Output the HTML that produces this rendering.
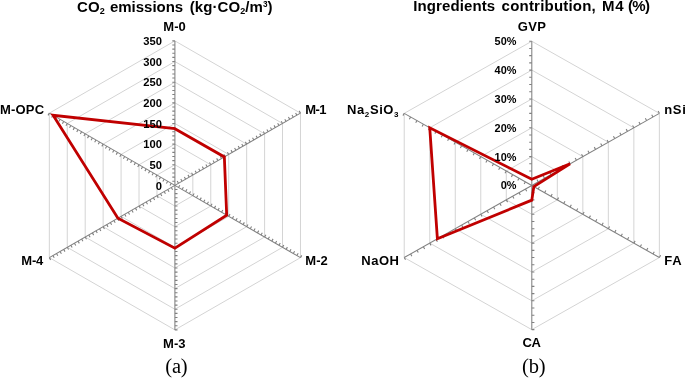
<!DOCTYPE html>
<html><head><meta charset="utf-8"><style>
html,body{margin:0;padding:0;background:#fff;overflow:hidden;}
svg{display:block;}
.b{font-family:"Liberation Sans",sans-serif;font-weight:bold;fill:#000;}
.s{font-family:"Liberation Serif",serif;fill:#000;}
</style></head><body>
<svg width="685" height="378" viewBox="0 0 685 378">
<defs><filter id="bl" filterUnits="userSpaceOnUse" x="0" y="0" width="685" height="378"><feGaussianBlur stdDeviation="0.3"/></filter></defs>
<rect width="685" height="378" fill="#fff"/>
<g filter="url(#bl)">
<polygon points="174.90,164.76 192.84,175.08 192.84,195.72 174.90,206.04 156.96,195.72 156.96,175.08" fill="none" stroke="#d4d4d4" stroke-width="1"/>
<polygon points="174.90,144.11 210.78,164.76 210.78,206.04 174.90,226.69 139.02,206.04 139.02,164.76" fill="none" stroke="#d4d4d4" stroke-width="1"/>
<polygon points="174.90,123.47 228.72,154.44 228.72,216.36 174.90,247.33 121.08,216.36 121.08,154.44" fill="none" stroke="#d4d4d4" stroke-width="1"/>
<polygon points="174.90,102.83 246.66,144.11 246.66,226.69 174.90,267.97 103.14,226.69 103.14,144.11" fill="none" stroke="#d4d4d4" stroke-width="1"/>
<polygon points="174.90,82.19 264.60,133.79 264.60,237.01 174.90,288.61 85.20,237.01 85.20,133.79" fill="none" stroke="#d4d4d4" stroke-width="1"/>
<polygon points="174.90,61.54 282.53,123.47 282.53,247.33 174.90,309.26 67.27,247.33 67.27,123.47" fill="none" stroke="#d4d4d4" stroke-width="1"/>
<polygon points="174.90,40.90 300.47,113.15 300.47,257.65 174.90,329.90 49.33,257.65 49.33,113.15" fill="none" stroke="#d4d4d4" stroke-width="1"/>
<line x1="174.90" y1="185.40" x2="174.90" y2="40.90" stroke="#808080" stroke-width="1.05"/>
<path d="M174.90,181.27l-2.60,-0.00M174.90,177.14l-2.60,-0.00M174.90,173.01l-2.60,-0.00M174.90,168.89l-2.60,-0.00M174.90,164.76l-2.60,-0.00M174.90,160.63l-2.60,-0.00M174.90,156.50l-2.60,-0.00M174.90,152.37l-2.60,-0.00M174.90,148.24l-2.60,-0.00M174.90,144.11l-2.60,-0.00M174.90,139.99l-2.60,-0.00M174.90,135.86l-2.60,-0.00M174.90,131.73l-2.60,-0.00M174.90,127.60l-2.60,-0.00M174.90,123.47l-2.60,-0.00M174.90,119.34l-2.60,-0.00M174.90,115.21l-2.60,-0.00M174.90,111.09l-2.60,-0.00M174.90,106.96l-2.60,-0.00M174.90,102.83l-2.60,-0.00M174.90,98.70l-2.60,-0.00M174.90,94.57l-2.60,-0.00M174.90,90.44l-2.60,-0.00M174.90,86.31l-2.60,-0.00M174.90,82.19l-2.60,-0.00M174.90,78.06l-2.60,-0.00M174.90,73.93l-2.60,-0.00M174.90,69.80l-2.60,-0.00M174.90,65.67l-2.60,-0.00M174.90,61.54l-2.60,-0.00M174.90,57.41l-2.60,-0.00M174.90,53.29l-2.60,-0.00M174.90,49.16l-2.60,-0.00M174.90,45.03l-2.60,-0.00M174.90,40.90l-2.60,-0.00" stroke="#808080" stroke-width="1.1" fill="none"/>
<line x1="174.90" y1="185.40" x2="300.47" y2="113.15" stroke="#808080" stroke-width="1.05"/>
<path d="M178.49,183.34l-1.30,-2.25M182.08,181.27l-1.30,-2.25M185.66,179.21l-1.30,-2.25M189.25,177.14l-1.30,-2.25M192.84,175.08l-1.30,-2.25M196.43,173.01l-1.30,-2.25M200.01,170.95l-1.30,-2.25M203.60,168.89l-1.30,-2.25M207.19,166.82l-1.30,-2.25M210.78,164.76l-1.30,-2.25M214.37,162.69l-1.30,-2.25M217.95,160.63l-1.30,-2.25M221.54,158.56l-1.30,-2.25M225.13,156.50l-1.30,-2.25M228.72,154.44l-1.30,-2.25M232.31,152.37l-1.30,-2.25M235.89,150.31l-1.30,-2.25M239.48,148.24l-1.30,-2.25M243.07,146.18l-1.30,-2.25M246.66,144.11l-1.30,-2.25M250.24,142.05l-1.30,-2.25M253.83,139.99l-1.30,-2.25M257.42,137.92l-1.30,-2.25M261.01,135.86l-1.30,-2.25M264.60,133.79l-1.30,-2.25M268.18,131.73l-1.30,-2.25M271.77,129.66l-1.30,-2.25M275.36,127.60l-1.30,-2.25M278.95,125.54l-1.30,-2.25M282.53,123.47l-1.30,-2.25M286.12,121.41l-1.30,-2.25M289.71,119.34l-1.30,-2.25M293.30,117.28l-1.30,-2.25M296.89,115.21l-1.30,-2.25M300.47,113.15l-1.30,-2.25" stroke="#808080" stroke-width="1.1" fill="none"/>
<line x1="174.90" y1="185.40" x2="300.47" y2="257.65" stroke="#808080" stroke-width="1.05"/>
<path d="M178.49,187.46l1.30,-2.25M182.08,189.53l1.30,-2.25M185.66,191.59l1.30,-2.25M189.25,193.66l1.30,-2.25M192.84,195.72l1.30,-2.25M196.43,197.79l1.30,-2.25M200.01,199.85l1.30,-2.25M203.60,201.91l1.30,-2.25M207.19,203.98l1.30,-2.25M210.78,206.04l1.30,-2.25M214.37,208.11l1.30,-2.25M217.95,210.17l1.30,-2.25M221.54,212.24l1.30,-2.25M225.13,214.30l1.30,-2.25M228.72,216.36l1.30,-2.25M232.31,218.43l1.30,-2.25M235.89,220.49l1.30,-2.25M239.48,222.56l1.30,-2.25M243.07,224.62l1.30,-2.25M246.66,226.69l1.30,-2.25M250.24,228.75l1.30,-2.25M253.83,230.81l1.30,-2.25M257.42,232.88l1.30,-2.25M261.01,234.94l1.30,-2.25M264.60,237.01l1.30,-2.25M268.18,239.07l1.30,-2.25M271.77,241.14l1.30,-2.25M275.36,243.20l1.30,-2.25M278.95,245.26l1.30,-2.25M282.53,247.33l1.30,-2.25M286.12,249.39l1.30,-2.25M289.71,251.46l1.30,-2.25M293.30,253.52l1.30,-2.25M296.89,255.59l1.30,-2.25M300.47,257.65l1.30,-2.25" stroke="#808080" stroke-width="1.1" fill="none"/>
<line x1="174.90" y1="185.40" x2="174.90" y2="329.90" stroke="#808080" stroke-width="1.05"/>
<path d="M174.90,189.53l2.60,-0.00M174.90,193.66l2.60,-0.00M174.90,197.79l2.60,-0.00M174.90,201.91l2.60,-0.00M174.90,206.04l2.60,-0.00M174.90,210.17l2.60,-0.00M174.90,214.30l2.60,-0.00M174.90,218.43l2.60,-0.00M174.90,222.56l2.60,-0.00M174.90,226.69l2.60,-0.00M174.90,230.81l2.60,-0.00M174.90,234.94l2.60,-0.00M174.90,239.07l2.60,-0.00M174.90,243.20l2.60,-0.00M174.90,247.33l2.60,-0.00M174.90,251.46l2.60,-0.00M174.90,255.59l2.60,-0.00M174.90,259.71l2.60,-0.00M174.90,263.84l2.60,-0.00M174.90,267.97l2.60,-0.00M174.90,272.10l2.60,-0.00M174.90,276.23l2.60,-0.00M174.90,280.36l2.60,-0.00M174.90,284.49l2.60,-0.00M174.90,288.61l2.60,-0.00M174.90,292.74l2.60,-0.00M174.90,296.87l2.60,-0.00M174.90,301.00l2.60,-0.00M174.90,305.13l2.60,-0.00M174.90,309.26l2.60,-0.00M174.90,313.39l2.60,-0.00M174.90,317.51l2.60,-0.00M174.90,321.64l2.60,-0.00M174.90,325.77l2.60,-0.00M174.90,329.90l2.60,-0.00" stroke="#808080" stroke-width="1.1" fill="none"/>
<line x1="174.90" y1="185.40" x2="49.33" y2="257.65" stroke="#808080" stroke-width="1.05"/>
<path d="M171.31,187.46l1.30,2.25M167.72,189.53l1.30,2.25M164.14,191.59l1.30,2.25M160.55,193.66l1.30,2.25M156.96,195.72l1.30,2.25M153.37,197.79l1.30,2.25M149.79,199.85l1.30,2.25M146.20,201.91l1.30,2.25M142.61,203.98l1.30,2.25M139.02,206.04l1.30,2.25M135.43,208.11l1.30,2.25M131.85,210.17l1.30,2.25M128.26,212.24l1.30,2.25M124.67,214.30l1.30,2.25M121.08,216.36l1.30,2.25M117.49,218.43l1.30,2.25M113.91,220.49l1.30,2.25M110.32,222.56l1.30,2.25M106.73,224.62l1.30,2.25M103.14,226.69l1.30,2.25M99.56,228.75l1.30,2.25M95.97,230.81l1.30,2.25M92.38,232.88l1.30,2.25M88.79,234.94l1.30,2.25M85.20,237.01l1.30,2.25M81.62,239.07l1.30,2.25M78.03,241.14l1.30,2.25M74.44,243.20l1.30,2.25M70.85,245.26l1.30,2.25M67.27,247.33l1.30,2.25M63.68,249.39l1.30,2.25M60.09,251.46l1.30,2.25M56.50,253.52l1.30,2.25M52.91,255.59l1.30,2.25M49.33,257.65l1.30,2.25" stroke="#808080" stroke-width="1.1" fill="none"/>
<line x1="174.90" y1="185.40" x2="49.33" y2="113.15" stroke="#808080" stroke-width="1.05"/>
<path d="M171.31,183.34l-1.30,2.25M167.72,181.27l-1.30,2.25M164.14,179.21l-1.30,2.25M160.55,177.14l-1.30,2.25M156.96,175.08l-1.30,2.25M153.37,173.01l-1.30,2.25M149.79,170.95l-1.30,2.25M146.20,168.89l-1.30,2.25M142.61,166.82l-1.30,2.25M139.02,164.76l-1.30,2.25M135.43,162.69l-1.30,2.25M131.85,160.63l-1.30,2.25M128.26,158.56l-1.30,2.25M124.67,156.50l-1.30,2.25M121.08,154.44l-1.30,2.25M117.49,152.37l-1.30,2.25M113.91,150.31l-1.30,2.25M110.32,148.24l-1.30,2.25M106.73,146.18l-1.30,2.25M103.14,144.11l-1.30,2.25M99.56,142.05l-1.30,2.25M95.97,139.99l-1.30,2.25M92.38,137.92l-1.30,2.25M88.79,135.86l-1.30,2.25M85.20,133.79l-1.30,2.25M81.62,131.73l-1.30,2.25M78.03,129.66l-1.30,2.25M74.44,127.60l-1.30,2.25M70.85,125.54l-1.30,2.25M67.27,123.47l-1.30,2.25M63.68,121.41l-1.30,2.25M60.09,119.34l-1.30,2.25M56.50,117.28l-1.30,2.25M52.91,115.21l-1.30,2.25M49.33,113.15l-1.30,2.25" stroke="#808080" stroke-width="1.1" fill="none"/>
<polygon points="174.90,128.71 224.34,156.95 226.71,215.21 174.90,248.15 117.93,218.18 53.09,115.32" fill="none" stroke="#c00000" stroke-width="2.8" stroke-linejoin="miter" stroke-miterlimit="10"/>
<polygon points="531.80,156.61 557.31,171.03 557.31,199.87 531.80,214.29 506.29,199.87 506.29,171.03" fill="none" stroke="#d4d4d4" stroke-width="1"/>
<polygon points="531.80,127.77 582.83,156.61 582.83,214.29 531.80,243.13 480.77,214.29 480.77,156.61" fill="none" stroke="#d4d4d4" stroke-width="1"/>
<polygon points="531.80,98.93 608.34,142.19 608.34,228.71 531.80,271.97 455.26,228.71 455.26,142.19" fill="none" stroke="#d4d4d4" stroke-width="1"/>
<polygon points="531.80,70.09 633.85,127.77 633.85,243.13 531.80,300.81 429.75,243.13 429.75,127.77" fill="none" stroke="#d4d4d4" stroke-width="1"/>
<polygon points="531.80,41.25 659.37,113.35 659.37,257.55 531.80,329.65 404.23,257.55 404.23,113.35" fill="none" stroke="#d4d4d4" stroke-width="1"/>
<line x1="531.80" y1="185.45" x2="531.80" y2="41.25" stroke="#808080" stroke-width="1.05"/>
<path d="M531.80,178.24l-2.60,-0.00M531.80,171.03l-2.60,-0.00M531.80,163.82l-2.60,-0.00M531.80,156.61l-2.60,-0.00M531.80,149.40l-2.60,-0.00M531.80,142.19l-2.60,-0.00M531.80,134.98l-2.60,-0.00M531.80,127.77l-2.60,-0.00M531.80,120.56l-2.60,-0.00M531.80,113.35l-2.60,-0.00M531.80,106.14l-2.60,-0.00M531.80,98.93l-2.60,-0.00M531.80,91.72l-2.60,-0.00M531.80,84.51l-2.60,-0.00M531.80,77.30l-2.60,-0.00M531.80,70.09l-2.60,-0.00M531.80,62.88l-2.60,-0.00M531.80,55.67l-2.60,-0.00M531.80,48.46l-2.60,-0.00M531.80,41.25l-2.60,-0.00" stroke="#808080" stroke-width="1.1" fill="none"/>
<line x1="531.80" y1="185.45" x2="659.37" y2="113.35" stroke="#808080" stroke-width="1.05"/>
<path d="M538.18,181.84l-1.28,-2.26M544.56,178.24l-1.28,-2.26M550.93,174.63l-1.28,-2.26M557.31,171.03l-1.28,-2.26M563.69,167.42l-1.28,-2.26M570.07,163.82l-1.28,-2.26M576.45,160.21l-1.28,-2.26M582.83,156.61l-1.28,-2.26M589.20,153.00l-1.28,-2.26M595.58,149.40l-1.28,-2.26M601.96,145.79l-1.28,-2.26M608.34,142.19l-1.28,-2.26M614.72,138.58l-1.28,-2.26M621.10,134.98l-1.28,-2.26M627.47,131.37l-1.28,-2.26M633.85,127.77l-1.28,-2.26M640.23,124.16l-1.28,-2.26M646.61,120.56l-1.28,-2.26M652.99,116.95l-1.28,-2.26M659.37,113.35l-1.28,-2.26" stroke="#808080" stroke-width="1.1" fill="none"/>
<line x1="531.80" y1="185.45" x2="659.37" y2="257.55" stroke="#808080" stroke-width="1.05"/>
<path d="M538.18,189.05l1.28,-2.26M544.56,192.66l1.28,-2.26M550.93,196.26l1.28,-2.26M557.31,199.87l1.28,-2.26M563.69,203.47l1.28,-2.26M570.07,207.08l1.28,-2.26M576.45,210.68l1.28,-2.26M582.83,214.29l1.28,-2.26M589.20,217.89l1.28,-2.26M595.58,221.50l1.28,-2.26M601.96,225.10l1.28,-2.26M608.34,228.71l1.28,-2.26M614.72,232.31l1.28,-2.26M621.10,235.92l1.28,-2.26M627.47,239.52l1.28,-2.26M633.85,243.13l1.28,-2.26M640.23,246.73l1.28,-2.26M646.61,250.34l1.28,-2.26M652.99,253.94l1.28,-2.26M659.37,257.55l1.28,-2.26" stroke="#808080" stroke-width="1.1" fill="none"/>
<line x1="531.80" y1="185.45" x2="531.80" y2="329.65" stroke="#808080" stroke-width="1.05"/>
<path d="M531.80,192.66l2.60,-0.00M531.80,199.87l2.60,-0.00M531.80,207.08l2.60,-0.00M531.80,214.29l2.60,-0.00M531.80,221.50l2.60,-0.00M531.80,228.71l2.60,-0.00M531.80,235.92l2.60,-0.00M531.80,243.13l2.60,-0.00M531.80,250.34l2.60,-0.00M531.80,257.55l2.60,-0.00M531.80,264.76l2.60,-0.00M531.80,271.97l2.60,-0.00M531.80,279.18l2.60,-0.00M531.80,286.39l2.60,-0.00M531.80,293.60l2.60,-0.00M531.80,300.81l2.60,-0.00M531.80,308.02l2.60,-0.00M531.80,315.23l2.60,-0.00M531.80,322.44l2.60,-0.00M531.80,329.65l2.60,-0.00" stroke="#808080" stroke-width="1.1" fill="none"/>
<line x1="531.80" y1="185.45" x2="404.23" y2="257.55" stroke="#808080" stroke-width="1.05"/>
<path d="M525.42,189.05l1.28,2.26M519.04,192.66l1.28,2.26M512.67,196.26l1.28,2.26M506.29,199.87l1.28,2.26M499.91,203.47l1.28,2.26M493.53,207.08l1.28,2.26M487.15,210.69l1.28,2.26M480.77,214.29l1.28,2.26M474.40,217.90l1.28,2.26M468.02,221.50l1.28,2.26M461.64,225.11l1.28,2.26M455.26,228.71l1.28,2.26M448.88,232.32l1.28,2.26M442.50,235.92l1.28,2.26M436.13,239.53l1.28,2.26M429.75,243.13l1.28,2.26M423.37,246.74l1.28,2.26M416.99,250.34l1.28,2.26M410.61,253.95l1.28,2.26M404.23,257.55l1.28,2.26" stroke="#808080" stroke-width="1.1" fill="none"/>
<line x1="531.80" y1="185.45" x2="404.23" y2="113.35" stroke="#808080" stroke-width="1.05"/>
<path d="M525.42,181.84l-1.28,2.26M519.04,178.24l-1.28,2.26M512.67,174.63l-1.28,2.26M506.29,171.03l-1.28,2.26M499.91,167.42l-1.28,2.26M493.53,163.82l-1.28,2.26M487.15,160.21l-1.28,2.26M480.77,156.61l-1.28,2.26M474.40,153.00l-1.28,2.26M468.02,149.40l-1.28,2.26M461.64,145.79l-1.28,2.26M455.26,142.19l-1.28,2.26M448.88,138.58l-1.28,2.26M442.50,134.98l-1.28,2.26M436.13,131.37l-1.28,2.26M429.75,127.77l-1.28,2.26M423.37,124.16l-1.28,2.26M416.99,120.56l-1.28,2.26M410.61,116.95l-1.28,2.26M404.23,113.35l-1.28,2.26" stroke="#808080" stroke-width="1.1" fill="none"/>
<polygon points="531.80,179.25 570.07,163.82 533.84,186.60 531.80,200.16 437.40,238.80 429.75,127.77" fill="none" stroke="#c00000" stroke-width="2.8" stroke-linejoin="miter" stroke-miterlimit="10"/>
<text x="76.99" y="11.50" class="b" font-size="15" letter-spacing="0.120">CO<tspan font-size="9" dy="2.8">2</tspan></text>
<text x="109.92" y="11.50" class="b" font-size="15" letter-spacing="-0.008">emissions</text>
<text x="189.70" y="11.50" class="b" font-size="15" letter-spacing="0.081">(kg·CO<tspan font-size="9" dy="2.8">2</tspan><tspan dy="-2.8">/m</tspan><tspan font-size="8.2" dy="-4.1">3</tspan><tspan dy="4.1">)</tspan></text>
<text x="413.15" y="11.20" class="b" font-size="15" letter-spacing="0.119">Ingredients</text>
<text x="501.62" y="11.20" class="b" font-size="15" letter-spacing="0.211">contribution,</text>
<text x="602.05" y="11.20" class="b" font-size="15" letter-spacing="0.682">M4</text>
<text x="628.00" y="11.20" class="b" font-size="15" letter-spacing="-0.706">(%)</text>
<text x="163.37" y="30.80" class="b" font-size="13" letter-spacing="0.024">M-0</text>
<text x="305.37" y="113.90" class="b" font-size="13" letter-spacing="-0.671">M-1</text>
<text x="305.37" y="264.90" class="b" font-size="13" letter-spacing="0.008">M-2</text>
<text x="163.07" y="347.60" class="b" font-size="13" letter-spacing="0.058">M-3</text>
<text x="21.37" y="264.70" class="b" font-size="13" letter-spacing="-0.212">M-4</text>
<text x="-0.13" y="113.70" class="b" font-size="13" letter-spacing="0.211">M-OPC</text>
<text x="517.68" y="30.90" class="b" font-size="13" letter-spacing="0.417">GVP</text>
<text x="664.17" y="114.00" class="b" font-size="13" letter-spacing="0.732">nSi</text>
<text x="664.37" y="264.70" class="b" font-size="13" letter-spacing="0.559">FA</text>
<text x="522.48" y="347.30" class="b" font-size="13" letter-spacing="-0.306">CA</text>
<text x="361.27" y="264.90" class="b" font-size="13" letter-spacing="0.501">NaOH</text>
<text x="347.07" y="114.20" class="b" font-size="13" letter-spacing="0.580">Na<tspan font-size="8" dy="2.5">2</tspan><tspan dy="-2.5">SiO</tspan><tspan font-size="8" dy="2.5">3</tspan></text>
<text x="165.21" y="373.30" class="s" font-size="20.5" letter-spacing="-0.129">(a)</text>
<text x="522.11" y="373.30" class="s" font-size="20.5" letter-spacing="-0.179">(b)</text>
<text x="162" y="189.70" text-anchor="end" class="b" font-size="11.2">0</text>
<text x="162" y="169.06" text-anchor="end" class="b" font-size="11.2">50</text>
<text x="162" y="148.41" text-anchor="end" class="b" font-size="11.2">100</text>
<text x="162" y="127.77" text-anchor="end" class="b" font-size="11.2">150</text>
<text x="162" y="107.13" text-anchor="end" class="b" font-size="11.2">200</text>
<text x="162" y="86.49" text-anchor="end" class="b" font-size="11.2">250</text>
<text x="162" y="65.84" text-anchor="end" class="b" font-size="11.2">300</text>
<text x="162" y="45.20" text-anchor="end" class="b" font-size="11.2">350</text>
<text x="516.4" y="189.45" text-anchor="end" class="b" font-size="10.9">0%</text>
<text x="516.4" y="160.61" text-anchor="end" class="b" font-size="10.9">10%</text>
<text x="516.4" y="131.77" text-anchor="end" class="b" font-size="10.9">20%</text>
<text x="516.4" y="102.93" text-anchor="end" class="b" font-size="10.9">30%</text>
<text x="516.4" y="74.09" text-anchor="end" class="b" font-size="10.9">40%</text>
<text x="516.4" y="45.25" text-anchor="end" class="b" font-size="10.9">50%</text>
</g>
</svg>
</body></html>
